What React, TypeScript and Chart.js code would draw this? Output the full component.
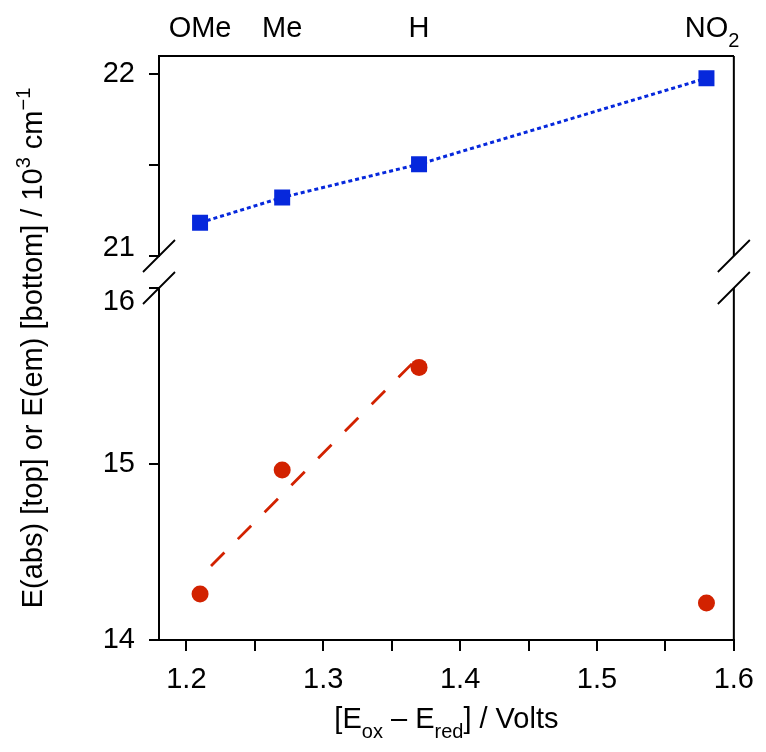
import React, { useEffect, useRef } from 'react';
import { Chart, registerables } from 'chart.js';

Chart.register(...registerables);

// ---------- data ----------
const X_POS = [1.21, 1.27, 1.37, 1.58];
const SUBSTITUENTS = ['OMe', 'Me', 'H', 'NO_{2}'];
const E_ABS = [21.183, 21.322, 21.505, 21.978];
const E_EM = [14.261, 14.966, 15.549, 14.21];
const FIT_X = [1.218, 1.37];
const FIT_Y = [14.42, 15.61];
const X_TICKS = [1.2, 1.25, 1.3, 1.35, 1.4, 1.45, 1.5, 1.55, 1.6];
const X_LABELED = [1.2, 1.3, 1.4, 1.5, 1.6];
const Y_TOP_TICKS = [21, 21.5, 22];
const Y_BOT_TICKS = [14, 14.5, 15, 15.5, 16];
const Y_LABELED = [14, 15, 16, 21, 22];
const X_TITLE = '[E_{ox} \u2013 E_{red}] / Volts';
const Y_TITLE = 'E(abs) [top] or E(em) [bottom] / 10^{3} cm^{\u22121}';

const FONT = '"Liberation Sans", Arial, Helvetica, sans-serif';
const FS = 29;
const BLUE = '#0628dc';
const RED = '#d22200';

type Seg = { t: string; k: 'n' | 'sub' | 'sup' };

function parseRich(s: string): Seg[] {
  const out: Seg[] = [];
  let buf = '';
  let i = 0;
  while (i < s.length) {
    const c = s[i];
    if ((c === '_' || c === '^') && s[i + 1] === '{') {
      if (buf) { out.push({ t: buf, k: 'n' }); buf = ''; }
      const end = s.indexOf('}', i + 2);
      out.push({ t: s.slice(i + 2, end), k: c === '_' ? 'sub' : 'sup' });
      i = end + 1;
    } else {
      buf += c;
      i++;
    }
  }
  if (buf) out.push({ t: buf, k: 'n' });
  return out;
}

function drawRich(
  ctx: CanvasRenderingContext2D,
  s: string,
  x: number,
  y: number,
  size: number,
  rotate: boolean,
  centerMainOnly: boolean
) {
  const segs = parseRich(s);
  const small = Math.round(size * 0.68);
  const fontFor = (k: string) => `${k === 'n' ? size : small}px ${FONT}`;
  const widths = segs.map((sg) => {
    ctx.font = fontFor(sg.k);
    return ctx.measureText(sg.t).width;
  });
  let total = 0;
  segs.forEach((sg, i) => {
    if (!centerMainOnly || sg.k === 'n') total += widths[i];
  });
  ctx.save();
  ctx.translate(x, y);
  if (rotate) ctx.rotate(-Math.PI / 2);
  ctx.fillStyle = '#000';
  ctx.textBaseline = 'alphabetic';
  ctx.textAlign = 'left';
  let cx = -total / 2;
  segs.forEach((sg, i) => {
    ctx.font = fontFor(sg.k);
    const dy = sg.k === 'sub' ? size * 0.36 : sg.k === 'sup' ? -size * 0.4 : 0;
    ctx.fillText(sg.t, cx, dy);
    cx += widths[i];
  });
  ctx.restore();
}

const framePlugin = {
  id: 'framePlugin',
  afterDraw(chart: any) {
    const ctx: CanvasRenderingContext2D = chart.ctx;
    const { left, right } = chart.chartArea;
    const yTop = chart.scales.yTop;
    const yBot = chart.scales.yBot;
    const x = chart.scales.x;
    ctx.save();
    ctx.strokeStyle = '#000';
    ctx.lineWidth = 2;
    ctx.beginPath();
    ctx.moveTo(right, yTop.top);
    ctx.lineTo(right, yTop.bottom);
    ctx.moveTo(right, yBot.top);
    ctx.lineTo(right, yBot.bottom);
    ctx.stroke();
    // axis break marks
    ctx.lineWidth = 1.8;
    ctx.beginPath();
    for (const px of [left, right]) {
      for (const py of [yTop.bottom, yBot.top]) {
        ctx.moveTo(px - 16, py + 16);
        ctx.lineTo(px + 16, py - 16);
      }
    }
    ctx.stroke();
    ctx.restore();

    // substituent labels on top
    SUBSTITUENTS.forEach((lab, i) => {
      drawRich(ctx, lab, x.getPixelForValue(X_POS[i]), 37, FS, false, true);
    });
    // axis titles
    drawRich(ctx, X_TITLE, (left + right) / 2, 728, FS, false, false);
    drawRich(ctx, Y_TITLE, 42, (yTop.top + yBot.bottom) / 2, FS, true, false);
  },
};

export default function App() {
  const ref = useRef<HTMLCanvasElement | null>(null);
  useEffect(() => {
    if (!ref.current) return;
    Chart.defaults.font.family = FONT;
    const tickFont = { size: FS, family: FONT };
    const yGrid = {
      display: true,
      drawOnChartArea: false,
      drawTicks: true,
      tickLength: 10,
      tickWidth: 2,
      tickColor: '#000',
      color: '#000',
      lineWidth: 2,
    };
    const chart = new Chart(ref.current, {
      type: 'scatter',
      data: {
        datasets: [
          {
            label: 'E(em)',
            data: X_POS.map((x, i) => ({ x, y: E_EM[i] })),
            xAxisID: 'x',
            yAxisID: 'yBot',
            showLine: false,
            pointStyle: 'circle',
            pointRadius: 8.5,
            pointBackgroundColor: RED,
            pointBorderColor: RED,
            pointBorderWidth: 0,
            order: 0,
          },
          {
            label: 'fit',
            data: FIT_X.map((x, i) => ({ x, y: FIT_Y[i] })),
            xAxisID: 'x',
            yAxisID: 'yBot',
            showLine: true,
            borderColor: RED,
            borderWidth: 2.8,
            borderDash: [19, 19],
            pointRadius: 0,
            order: 1,
          },
          {
            label: 'E(abs)',
            data: X_POS.map((x, i) => ({ x, y: E_ABS[i] })),
            xAxisID: 'x',
            yAxisID: 'yTop',
            showLine: true,
            borderColor: BLUE,
            borderWidth: 3,
            borderDash: [4, 3],
            pointStyle: 'rect',
            pointRadius: 11.3,
            pointBackgroundColor: BLUE,
            pointBorderColor: BLUE,
            pointBorderWidth: 0,
            order: 0,
          },
        ],
      },
      options: {
        animation: false,
        responsive: false,
        events: [],
        layout: { padding: { left: 0, right: 23, top: 0, bottom: 0 } },
        plugins: { legend: { display: false }, tooltip: { enabled: false } },
        scales: {
          x: {
            type: 'linear',
            position: 'bottom',
            min: 1.18,
            max: 1.6,
            afterBuildTicks: (s: any) => {
              s.ticks = X_TICKS.map((v) => ({ value: v }));
            },
            afterFit: (s: any) => {
              s.height = 112;
            },
            ticks: {
              autoSkip: false,
              maxRotation: 0,
              padding: 12,
              color: '#000',
              font: tickFont,
              callback: (v: any) =>
                X_LABELED.some((l) => Math.abs(l - v) < 1e-6) ? Number(v).toFixed(1) : '',
            },
            grid: { ...yGrid, tickLength: 11 },
            border: { display: true, color: '#000', width: 2 },
          },
          xTop: {
            type: 'linear',
            position: 'top',
            min: 1.18,
            max: 1.6,
            afterFit: (s: any) => {
              s.height = 56;
            },
            ticks: { display: false },
            grid: { display: false },
            border: { display: true, color: '#000', width: 2 },
          },
          yTop: {
            type: 'linear',
            position: 'left',
            stack: 'y',
            stackWeight: 200,
            weight: 3,
            min: 21,
            max: 22.1,
            afterBuildTicks: (s: any) => {
              s.ticks = Y_TOP_TICKS.map((v) => ({ value: v }));
            },
            afterFit: (s: any) => {
              s.width = 159;
            },
            ticks: {
              padding: 14,
              color: '#000',
              font: { size: FS, family: FONT, lineHeight: 16 / FS },
              callback: (v: any) => {
                if (!Y_LABELED.includes(v)) return '';
                return v === Y_TOP_TICKS[0] ? [String(v), ''] : String(v);
              },
            },
            grid: yGrid,
            border: { display: true, color: '#000', width: 2 },
          },
          yGap: {
            type: 'linear',
            position: 'left',
            stack: 'y',
            stackWeight: 32,
            weight: 2,
            min: 0,
            max: 1,
            afterFit: (s: any) => {
              s.width = 159;
            },
            ticks: { display: false },
            grid: { display: false },
            border: { display: false },
          },
          yBot: {
            type: 'linear',
            position: 'left',
            stack: 'y',
            stackWeight: 352,
            weight: 1,
            min: 14,
            max: 16,
            afterBuildTicks: (s: any) => {
              s.ticks = Y_BOT_TICKS.map((v) => ({ value: v }));
            },
            afterFit: (s: any) => {
              s.width = 159;
            },
            ticks: {
              padding: 14,
              color: '#000',
              font: { size: FS, family: FONT, lineHeight: 27 / FS },
              callback: (v: any) => {
                if (!Y_LABELED.includes(v)) return '';
                return v === Y_BOT_TICKS[Y_BOT_TICKS.length - 1] ? ['', String(v)] : String(v);
              },
            },
            grid: yGrid,
            border: { display: true, color: '#000', width: 2 },
          },
        },
      },
      plugins: [framePlugin],
    } as any);
    return () => chart.destroy();
  }, []);

  return (
    <div style={{ position: 'absolute', left: 0, top: 0, width: 766, height: 752, background: '#fff' }}>
      <canvas ref={ref} width={766} height={752} style={{ display: 'block' }} />
    </div>
  );
}
